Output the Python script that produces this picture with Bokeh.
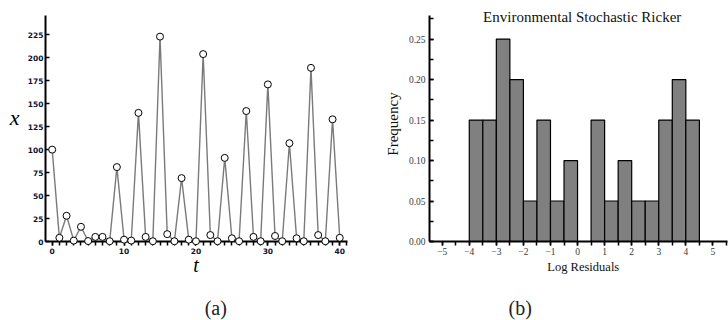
import math
from bokeh.plotting import figure
from bokeh.layouts import row
from bokeh.models import Range1d, SingleIntervalTicker, PrintfTickFormatter
from bokeh.core.properties import value
from bokeh.embed import file_html
from bokeh.resources import INLINE

# ---- data: panel (a) time series ----
t_values = list(range(41))
x_values = [100, 4, 28, 1, 16, 0.5, 5, 5, 0.3, 81, 2, 1, 140, 5, 0.3, 223, 8, 0.3,
            69, 2, 0.3, 204, 7, 0.3, 91, 3.5, 0.3, 142, 5, 0.3, 171, 6, 0.3, 107,
            3.5, 0.3, 189, 7, 0.3, 133, 4]

# ---- data: panel (b) histogram of log residuals ----
bin_left = [-4.0, -3.5, -3.0, -2.5, -2.0, -1.5, -1.0, -0.5, 0.0, 0.5, 1.0, 1.5, 2.0, 2.5, 3.0, 3.5, 4.0]
bin_right = [-3.5, -3.0, -2.5, -2.0, -1.5, -1.0, -0.5, 0.0, 0.5, 1.0, 1.5, 2.0, 2.5, 3.0, 3.5, 4.0, 4.5]
density = [0.15, 0.15, 0.25, 0.20, 0.05, 0.15, 0.05, 0.10, 0.0, 0.15, 0.05, 0.10, 0.05, 0.05, 0.15, 0.20, 0.15]

title_b = "Environmental Stochastic Ricker"
xlabel_b = "Log Residuals"
ylabel_b = "Frequency"
xlabel_a = "t"
ylabel_a = "x"
caption_a = "(a)"
caption_b = "(b)"

SERIF = "Liberation Serif"


def put_text(p, x, y, txt, size, style="normal", color="#111111", angle=0.0):
    p.text(x=[x], y=[y], text=[txt], text_font=value(SERIF), text_font_size=value(size),
           text_font_style=style, text_color=color, text_align="center",
           text_baseline="alphabetic", angle=angle, level="overlay")


# ---------------- panel (a) ----------------
p1 = figure(width=370, height=320, x_range=Range1d(-0.93, 41.08), y_range=Range1d(0, 246),
            output_backend="svg", toolbar_location=None, title=None,
            min_border_left=45, min_border_right=23, min_border_top=13, min_border_bottom=79)
p1.xgrid.visible = False
p1.ygrid.visible = False
p1.outline_line_color = None

p1.xaxis.ticker = SingleIntervalTicker(interval=10, num_minor_ticks=10)
p1.yaxis.ticker = SingleIntervalTicker(interval=25, num_minor_ticks=0)
for ax in (p1.xaxis, p1.yaxis):
    ax.axis_line_color = "black"
    ax.axis_line_width = 2
    ax.major_tick_line_color = "black"
    ax.major_tick_line_width = 1.5
    ax.minor_tick_line_color = "black"
    ax.minor_tick_line_width = 1.5
    ax.major_label_text_font = "DejaVu Sans"
    ax.major_label_text_font_style = "bold"
    ax.major_label_text_font_size = "7.5px"
    ax.major_label_text_color = "#111133"
    ax.major_label_standoff = 2
p1.xaxis.major_tick_out = 4
p1.xaxis.major_tick_in = 0
p1.xaxis.minor_tick_out = 4
p1.xaxis.minor_tick_in = 0
p1.yaxis.major_tick_in = 4
p1.yaxis.major_tick_out = 0

p1.line(t_values, x_values, line_color="#7a7a7a", line_width=1.4)
p1.scatter(t_values, x_values, marker="circle", size=7, fill_color="white",
           line_color="black", line_width=1, level="overlay")

put_text(p1, -5.22, 134.5, ylabel_a, "22px", style="italic", color="black")
put_text(p1, 20.0, -26.0, xlabel_a, "20px", style="italic", color="black")
put_text(p1, 22.76, -72.8, caption_a, "20px", color="#222222")

# ---------------- panel (b) ----------------
p2 = figure(width=358, height=320, x_range=Range1d(-5.469, 5.539), y_range=Range1d(0, 0.2791),
            output_backend="svg", toolbar_location=None, title=None,
            min_border_left=59, min_border_right=1, min_border_top=15, min_border_bottom=78)
p2.xgrid.visible = False
p2.ygrid.visible = False
p2.outline_line_color = None

p2.quad(left=bin_left, right=bin_right, bottom=0, top=density,
        fill_color="#808080", line_color="black", line_width=1.2)

p2.xaxis.ticker = SingleIntervalTicker(interval=1, num_minor_ticks=2)
p2.yaxis.ticker = SingleIntervalTicker(interval=0.05, num_minor_ticks=2)
p2.yaxis.formatter = PrintfTickFormatter(format="%.2f")
for ax in (p2.xaxis, p2.yaxis):
    ax.axis_line_color = "black"
    ax.axis_line_width = 2
    ax.major_tick_line_color = "black"
    ax.major_tick_line_width = 1.5
    ax.minor_tick_line_color = "black"
    ax.minor_tick_line_width = 1.5
    ax.major_label_text_font = SERIF
    ax.major_label_text_font_size = "9.5px"
    ax.major_label_text_color = "#3a3a3a"
p2.xaxis.major_tick_out = 4
p2.xaxis.major_tick_in = 0
p2.xaxis.minor_tick_out = 4
p2.xaxis.minor_tick_in = 0
p2.xaxis.major_label_standoff = 2
p2.yaxis.major_tick_in = 4
p2.yaxis.major_tick_out = 0
p2.yaxis.minor_tick_in = 4
p2.yaxis.minor_tick_out = 0
p2.yaxis.major_label_standoff = 4

put_text(p2, 0.172, 0.2767, title_b, "15px")
put_text(p2, 0.212, -0.0320, xlabel_b, "12.5px")
put_text(p2, -6.817, 0.1451, ylabel_b, "15px", angle=math.pi / 2)
put_text(p2, -2.119, -0.0818, caption_b, "20px", color="#222222")

layout = row(p1, p2)
open("out.html", "w").write(file_html(layout, INLINE))
